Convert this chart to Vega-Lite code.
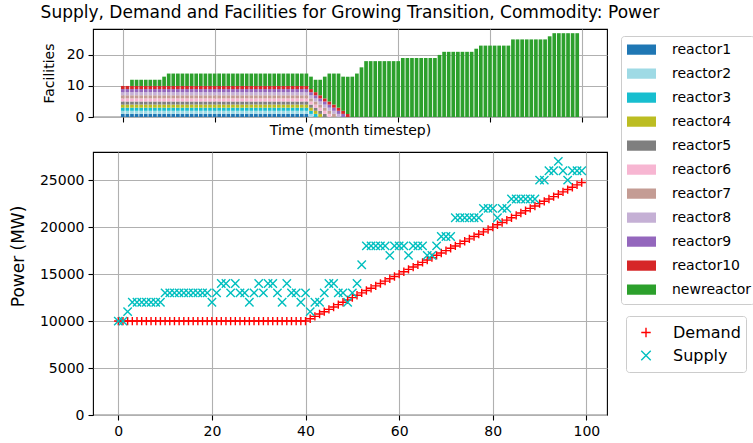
{
"$schema":"https://vega.github.io/schema/vega-lite/v6.json",
"background":"white",
"padding":{"left":8,"top":4,"right":0,"bottom":0},
"title":{"text":"Supply, Demand and Facilities for Growing Transition, Commodity: Power","fontSize":17,"font":"DejaVu Sans","fontWeight":"normal","color":"black","offset":6,"frame":"group","anchor":"middle"},
"config":{
"font":"DejaVu Sans",
"view":{"stroke":"black","strokeWidth":1.1},
"axis":{"domain":false,"grid":true,"gridColor":"#b0b0b0","gridWidth":1.1,"gridOpacity":1,"tickColor":"black","tickSize":5,"tickWidth":1.1,"labelFontSize":14,"labelColor":"black","labelPadding":4,"titleFontWeight":"normal","titleColor":"black","labelFont":"DejaVu Sans","titleFont":"DejaVu Sans"},
"legend":{"labelFont":"DejaVu Sans","labelColor":"black"}
},
"datasets":{
"ord":[{"s":"reactor1","k":1},{"s":"reactor2","k":2},{"s":"reactor3","k":3},{"s":"reactor4","k":4},{"s":"reactor5","k":5},{"s":"reactor6","k":6},{"s":"reactor7","k":7},{"s":"reactor8","k":8},{"s":"reactor9","k":9},{"s":"reactor10","k":10},{"s":"newreactor","k":11}],
"fac":[
{"t":0,"s":"reactor1","n":1},{"t":1,"s":"reactor1","n":1},{"t":2,"s":"reactor1","n":1},{"t":3,"s":"reactor1","n":1},{"t":4,"s":"reactor1","n":1},{"t":5,"s":"reactor1","n":1},{"t":6,"s":"reactor1","n":1},{"t":7,"s":"reactor1","n":1},{"t":8,"s":"reactor1","n":1},{"t":9,"s":"reactor1","n":1},{"t":10,"s":"reactor1","n":1},{"t":11,"s":"reactor1","n":1},{"t":12,"s":"reactor1","n":1},{"t":13,"s":"reactor1","n":1},{"t":14,"s":"reactor1","n":1},{"t":15,"s":"reactor1","n":1},{"t":16,"s":"reactor1","n":1},{"t":17,"s":"reactor1","n":1},{"t":18,"s":"reactor1","n":1},{"t":19,"s":"reactor1","n":1},{"t":20,"s":"reactor1","n":1},{"t":21,"s":"reactor1","n":1},{"t":22,"s":"reactor1","n":1},{"t":23,"s":"reactor1","n":1},{"t":24,"s":"reactor1","n":1},{"t":25,"s":"reactor1","n":1},{"t":26,"s":"reactor1","n":1},{"t":27,"s":"reactor1","n":1},{"t":28,"s":"reactor1","n":1},{"t":29,"s":"reactor1","n":1},{"t":30,"s":"reactor1","n":1},{"t":31,"s":"reactor1","n":1},{"t":32,"s":"reactor1","n":1},{"t":33,"s":"reactor1","n":1},{"t":34,"s":"reactor1","n":1},{"t":35,"s":"reactor1","n":1},{"t":36,"s":"reactor1","n":1},{"t":37,"s":"reactor1","n":1},{"t":38,"s":"reactor1","n":1},{"t":39,"s":"reactor1","n":1},{"t":40,"s":"reactor1","n":1},
{"t":0,"s":"reactor2","n":1},{"t":1,"s":"reactor2","n":1},{"t":2,"s":"reactor2","n":1},{"t":3,"s":"reactor2","n":1},{"t":4,"s":"reactor2","n":1},{"t":5,"s":"reactor2","n":1},{"t":6,"s":"reactor2","n":1},{"t":7,"s":"reactor2","n":1},{"t":8,"s":"reactor2","n":1},{"t":9,"s":"reactor2","n":1},{"t":10,"s":"reactor2","n":1},{"t":11,"s":"reactor2","n":1},{"t":12,"s":"reactor2","n":1},{"t":13,"s":"reactor2","n":1},{"t":14,"s":"reactor2","n":1},{"t":15,"s":"reactor2","n":1},{"t":16,"s":"reactor2","n":1},{"t":17,"s":"reactor2","n":1},{"t":18,"s":"reactor2","n":1},{"t":19,"s":"reactor2","n":1},{"t":20,"s":"reactor2","n":1},{"t":21,"s":"reactor2","n":1},{"t":22,"s":"reactor2","n":1},{"t":23,"s":"reactor2","n":1},{"t":24,"s":"reactor2","n":1},{"t":25,"s":"reactor2","n":1},{"t":26,"s":"reactor2","n":1},{"t":27,"s":"reactor2","n":1},{"t":28,"s":"reactor2","n":1},{"t":29,"s":"reactor2","n":1},{"t":30,"s":"reactor2","n":1},{"t":31,"s":"reactor2","n":1},{"t":32,"s":"reactor2","n":1},{"t":33,"s":"reactor2","n":1},{"t":34,"s":"reactor2","n":1},{"t":35,"s":"reactor2","n":1},{"t":36,"s":"reactor2","n":1},{"t":37,"s":"reactor2","n":1},{"t":38,"s":"reactor2","n":1},{"t":39,"s":"reactor2","n":1},{"t":40,"s":"reactor2","n":1},{"t":41,"s":"reactor2","n":1},
{"t":0,"s":"reactor3","n":1},{"t":1,"s":"reactor3","n":1},{"t":2,"s":"reactor3","n":1},{"t":3,"s":"reactor3","n":1},{"t":4,"s":"reactor3","n":1},{"t":5,"s":"reactor3","n":1},{"t":6,"s":"reactor3","n":1},{"t":7,"s":"reactor3","n":1},{"t":8,"s":"reactor3","n":1},{"t":9,"s":"reactor3","n":1},{"t":10,"s":"reactor3","n":1},{"t":11,"s":"reactor3","n":1},{"t":12,"s":"reactor3","n":1},{"t":13,"s":"reactor3","n":1},{"t":14,"s":"reactor3","n":1},{"t":15,"s":"reactor3","n":1},{"t":16,"s":"reactor3","n":1},{"t":17,"s":"reactor3","n":1},{"t":18,"s":"reactor3","n":1},{"t":19,"s":"reactor3","n":1},{"t":20,"s":"reactor3","n":1},{"t":21,"s":"reactor3","n":1},{"t":22,"s":"reactor3","n":1},{"t":23,"s":"reactor3","n":1},{"t":24,"s":"reactor3","n":1},{"t":25,"s":"reactor3","n":1},{"t":26,"s":"reactor3","n":1},{"t":27,"s":"reactor3","n":1},{"t":28,"s":"reactor3","n":1},{"t":29,"s":"reactor3","n":1},{"t":30,"s":"reactor3","n":1},{"t":31,"s":"reactor3","n":1},{"t":32,"s":"reactor3","n":1},{"t":33,"s":"reactor3","n":1},{"t":34,"s":"reactor3","n":1},{"t":35,"s":"reactor3","n":1},{"t":36,"s":"reactor3","n":1},{"t":37,"s":"reactor3","n":1},{"t":38,"s":"reactor3","n":1},{"t":39,"s":"reactor3","n":1},{"t":40,"s":"reactor3","n":1},{"t":41,"s":"reactor3","n":1},{"t":42,"s":"reactor3","n":1},
{"t":0,"s":"reactor4","n":1},{"t":1,"s":"reactor4","n":1},{"t":2,"s":"reactor4","n":1},{"t":3,"s":"reactor4","n":1},{"t":4,"s":"reactor4","n":1},{"t":5,"s":"reactor4","n":1},{"t":6,"s":"reactor4","n":1},{"t":7,"s":"reactor4","n":1},{"t":8,"s":"reactor4","n":1},{"t":9,"s":"reactor4","n":1},{"t":10,"s":"reactor4","n":1},{"t":11,"s":"reactor4","n":1},{"t":12,"s":"reactor4","n":1},{"t":13,"s":"reactor4","n":1},{"t":14,"s":"reactor4","n":1},{"t":15,"s":"reactor4","n":1},{"t":16,"s":"reactor4","n":1},{"t":17,"s":"reactor4","n":1},{"t":18,"s":"reactor4","n":1},{"t":19,"s":"reactor4","n":1},{"t":20,"s":"reactor4","n":1},{"t":21,"s":"reactor4","n":1},{"t":22,"s":"reactor4","n":1},{"t":23,"s":"reactor4","n":1},{"t":24,"s":"reactor4","n":1},{"t":25,"s":"reactor4","n":1},{"t":26,"s":"reactor4","n":1},{"t":27,"s":"reactor4","n":1},{"t":28,"s":"reactor4","n":1},{"t":29,"s":"reactor4","n":1},{"t":30,"s":"reactor4","n":1},{"t":31,"s":"reactor4","n":1},{"t":32,"s":"reactor4","n":1},{"t":33,"s":"reactor4","n":1},{"t":34,"s":"reactor4","n":1},{"t":35,"s":"reactor4","n":1},{"t":36,"s":"reactor4","n":1},{"t":37,"s":"reactor4","n":1},{"t":38,"s":"reactor4","n":1},{"t":39,"s":"reactor4","n":1},{"t":40,"s":"reactor4","n":1},{"t":41,"s":"reactor4","n":1},{"t":42,"s":"reactor4","n":1},{"t":43,"s":"reactor4","n":1},
{"t":0,"s":"reactor5","n":1},{"t":1,"s":"reactor5","n":1},{"t":2,"s":"reactor5","n":1},{"t":3,"s":"reactor5","n":1},{"t":4,"s":"reactor5","n":1},{"t":5,"s":"reactor5","n":1},{"t":6,"s":"reactor5","n":1},{"t":7,"s":"reactor5","n":1},{"t":8,"s":"reactor5","n":1},{"t":9,"s":"reactor5","n":1},{"t":10,"s":"reactor5","n":1},{"t":11,"s":"reactor5","n":1},{"t":12,"s":"reactor5","n":1},{"t":13,"s":"reactor5","n":1},{"t":14,"s":"reactor5","n":1},{"t":15,"s":"reactor5","n":1},{"t":16,"s":"reactor5","n":1},{"t":17,"s":"reactor5","n":1},{"t":18,"s":"reactor5","n":1},{"t":19,"s":"reactor5","n":1},{"t":20,"s":"reactor5","n":1},{"t":21,"s":"reactor5","n":1},{"t":22,"s":"reactor5","n":1},{"t":23,"s":"reactor5","n":1},{"t":24,"s":"reactor5","n":1},{"t":25,"s":"reactor5","n":1},{"t":26,"s":"reactor5","n":1},{"t":27,"s":"reactor5","n":1},{"t":28,"s":"reactor5","n":1},{"t":29,"s":"reactor5","n":1},{"t":30,"s":"reactor5","n":1},{"t":31,"s":"reactor5","n":1},{"t":32,"s":"reactor5","n":1},{"t":33,"s":"reactor5","n":1},{"t":34,"s":"reactor5","n":1},{"t":35,"s":"reactor5","n":1},{"t":36,"s":"reactor5","n":1},{"t":37,"s":"reactor5","n":1},{"t":38,"s":"reactor5","n":1},{"t":39,"s":"reactor5","n":1},{"t":40,"s":"reactor5","n":1},{"t":41,"s":"reactor5","n":1},{"t":42,"s":"reactor5","n":1},{"t":43,"s":"reactor5","n":1},{"t":44,"s":"reactor5","n":1},
{"t":0,"s":"reactor6","n":1},{"t":1,"s":"reactor6","n":1},{"t":2,"s":"reactor6","n":1},{"t":3,"s":"reactor6","n":1},{"t":4,"s":"reactor6","n":1},{"t":5,"s":"reactor6","n":1},{"t":6,"s":"reactor6","n":1},{"t":7,"s":"reactor6","n":1},{"t":8,"s":"reactor6","n":1},{"t":9,"s":"reactor6","n":1},{"t":10,"s":"reactor6","n":1},{"t":11,"s":"reactor6","n":1},{"t":12,"s":"reactor6","n":1},{"t":13,"s":"reactor6","n":1},{"t":14,"s":"reactor6","n":1},{"t":15,"s":"reactor6","n":1},{"t":16,"s":"reactor6","n":1},{"t":17,"s":"reactor6","n":1},{"t":18,"s":"reactor6","n":1},{"t":19,"s":"reactor6","n":1},{"t":20,"s":"reactor6","n":1},{"t":21,"s":"reactor6","n":1},{"t":22,"s":"reactor6","n":1},{"t":23,"s":"reactor6","n":1},{"t":24,"s":"reactor6","n":1},{"t":25,"s":"reactor6","n":1},{"t":26,"s":"reactor6","n":1},{"t":27,"s":"reactor6","n":1},{"t":28,"s":"reactor6","n":1},{"t":29,"s":"reactor6","n":1},{"t":30,"s":"reactor6","n":1},{"t":31,"s":"reactor6","n":1},{"t":32,"s":"reactor6","n":1},{"t":33,"s":"reactor6","n":1},{"t":34,"s":"reactor6","n":1},{"t":35,"s":"reactor6","n":1},{"t":36,"s":"reactor6","n":1},{"t":37,"s":"reactor6","n":1},{"t":38,"s":"reactor6","n":1},{"t":39,"s":"reactor6","n":1},{"t":40,"s":"reactor6","n":1},{"t":41,"s":"reactor6","n":1},{"t":42,"s":"reactor6","n":1},{"t":43,"s":"reactor6","n":1},{"t":44,"s":"reactor6","n":1},{"t":45,"s":"reactor6","n":1},
{"t":0,"s":"reactor7","n":1},{"t":1,"s":"reactor7","n":1},{"t":2,"s":"reactor7","n":1},{"t":3,"s":"reactor7","n":1},{"t":4,"s":"reactor7","n":1},{"t":5,"s":"reactor7","n":1},{"t":6,"s":"reactor7","n":1},{"t":7,"s":"reactor7","n":1},{"t":8,"s":"reactor7","n":1},{"t":9,"s":"reactor7","n":1},{"t":10,"s":"reactor7","n":1},{"t":11,"s":"reactor7","n":1},{"t":12,"s":"reactor7","n":1},{"t":13,"s":"reactor7","n":1},{"t":14,"s":"reactor7","n":1},{"t":15,"s":"reactor7","n":1},{"t":16,"s":"reactor7","n":1},{"t":17,"s":"reactor7","n":1},{"t":18,"s":"reactor7","n":1},{"t":19,"s":"reactor7","n":1},{"t":20,"s":"reactor7","n":1},{"t":21,"s":"reactor7","n":1},{"t":22,"s":"reactor7","n":1},{"t":23,"s":"reactor7","n":1},{"t":24,"s":"reactor7","n":1},{"t":25,"s":"reactor7","n":1},{"t":26,"s":"reactor7","n":1},{"t":27,"s":"reactor7","n":1},{"t":28,"s":"reactor7","n":1},{"t":29,"s":"reactor7","n":1},{"t":30,"s":"reactor7","n":1},{"t":31,"s":"reactor7","n":1},{"t":32,"s":"reactor7","n":1},{"t":33,"s":"reactor7","n":1},{"t":34,"s":"reactor7","n":1},{"t":35,"s":"reactor7","n":1},{"t":36,"s":"reactor7","n":1},{"t":37,"s":"reactor7","n":1},{"t":38,"s":"reactor7","n":1},{"t":39,"s":"reactor7","n":1},{"t":40,"s":"reactor7","n":1},{"t":41,"s":"reactor7","n":1},{"t":42,"s":"reactor7","n":1},{"t":43,"s":"reactor7","n":1},{"t":44,"s":"reactor7","n":1},{"t":45,"s":"reactor7","n":1},{"t":46,"s":"reactor7","n":1},
{"t":0,"s":"reactor8","n":1},{"t":1,"s":"reactor8","n":1},{"t":2,"s":"reactor8","n":1},{"t":3,"s":"reactor8","n":1},{"t":4,"s":"reactor8","n":1},{"t":5,"s":"reactor8","n":1},{"t":6,"s":"reactor8","n":1},{"t":7,"s":"reactor8","n":1},{"t":8,"s":"reactor8","n":1},{"t":9,"s":"reactor8","n":1},{"t":10,"s":"reactor8","n":1},{"t":11,"s":"reactor8","n":1},{"t":12,"s":"reactor8","n":1},{"t":13,"s":"reactor8","n":1},{"t":14,"s":"reactor8","n":1},{"t":15,"s":"reactor8","n":1},{"t":16,"s":"reactor8","n":1},{"t":17,"s":"reactor8","n":1},{"t":18,"s":"reactor8","n":1},{"t":19,"s":"reactor8","n":1},{"t":20,"s":"reactor8","n":1},{"t":21,"s":"reactor8","n":1},{"t":22,"s":"reactor8","n":1},{"t":23,"s":"reactor8","n":1},{"t":24,"s":"reactor8","n":1},{"t":25,"s":"reactor8","n":1},{"t":26,"s":"reactor8","n":1},{"t":27,"s":"reactor8","n":1},{"t":28,"s":"reactor8","n":1},{"t":29,"s":"reactor8","n":1},{"t":30,"s":"reactor8","n":1},{"t":31,"s":"reactor8","n":1},{"t":32,"s":"reactor8","n":1},{"t":33,"s":"reactor8","n":1},{"t":34,"s":"reactor8","n":1},{"t":35,"s":"reactor8","n":1},{"t":36,"s":"reactor8","n":1},{"t":37,"s":"reactor8","n":1},{"t":38,"s":"reactor8","n":1},{"t":39,"s":"reactor8","n":1},{"t":40,"s":"reactor8","n":1},{"t":41,"s":"reactor8","n":1},{"t":42,"s":"reactor8","n":1},{"t":43,"s":"reactor8","n":1},{"t":44,"s":"reactor8","n":1},{"t":45,"s":"reactor8","n":1},{"t":46,"s":"reactor8","n":1},{"t":47,"s":"reactor8","n":1},
{"t":0,"s":"reactor9","n":1},{"t":1,"s":"reactor9","n":1},{"t":2,"s":"reactor9","n":1},{"t":3,"s":"reactor9","n":1},{"t":4,"s":"reactor9","n":1},{"t":5,"s":"reactor9","n":1},{"t":6,"s":"reactor9","n":1},{"t":7,"s":"reactor9","n":1},{"t":8,"s":"reactor9","n":1},{"t":9,"s":"reactor9","n":1},{"t":10,"s":"reactor9","n":1},{"t":11,"s":"reactor9","n":1},{"t":12,"s":"reactor9","n":1},{"t":13,"s":"reactor9","n":1},{"t":14,"s":"reactor9","n":1},{"t":15,"s":"reactor9","n":1},{"t":16,"s":"reactor9","n":1},{"t":17,"s":"reactor9","n":1},{"t":18,"s":"reactor9","n":1},{"t":19,"s":"reactor9","n":1},{"t":20,"s":"reactor9","n":1},{"t":21,"s":"reactor9","n":1},{"t":22,"s":"reactor9","n":1},{"t":23,"s":"reactor9","n":1},{"t":24,"s":"reactor9","n":1},{"t":25,"s":"reactor9","n":1},{"t":26,"s":"reactor9","n":1},{"t":27,"s":"reactor9","n":1},{"t":28,"s":"reactor9","n":1},{"t":29,"s":"reactor9","n":1},{"t":30,"s":"reactor9","n":1},{"t":31,"s":"reactor9","n":1},{"t":32,"s":"reactor9","n":1},{"t":33,"s":"reactor9","n":1},{"t":34,"s":"reactor9","n":1},{"t":35,"s":"reactor9","n":1},{"t":36,"s":"reactor9","n":1},{"t":37,"s":"reactor9","n":1},{"t":38,"s":"reactor9","n":1},{"t":39,"s":"reactor9","n":1},{"t":40,"s":"reactor9","n":1},{"t":41,"s":"reactor9","n":1},{"t":42,"s":"reactor9","n":1},{"t":43,"s":"reactor9","n":1},{"t":44,"s":"reactor9","n":1},{"t":45,"s":"reactor9","n":1},{"t":46,"s":"reactor9","n":1},{"t":47,"s":"reactor9","n":1},{"t":48,"s":"reactor9","n":1},
{"t":0,"s":"reactor10","n":1},{"t":1,"s":"reactor10","n":1},{"t":2,"s":"reactor10","n":1},{"t":3,"s":"reactor10","n":1},{"t":4,"s":"reactor10","n":1},{"t":5,"s":"reactor10","n":1},{"t":6,"s":"reactor10","n":1},{"t":7,"s":"reactor10","n":1},{"t":8,"s":"reactor10","n":1},{"t":9,"s":"reactor10","n":1},{"t":10,"s":"reactor10","n":1},{"t":11,"s":"reactor10","n":1},{"t":12,"s":"reactor10","n":1},{"t":13,"s":"reactor10","n":1},{"t":14,"s":"reactor10","n":1},{"t":15,"s":"reactor10","n":1},{"t":16,"s":"reactor10","n":1},{"t":17,"s":"reactor10","n":1},{"t":18,"s":"reactor10","n":1},{"t":19,"s":"reactor10","n":1},{"t":20,"s":"reactor10","n":1},{"t":21,"s":"reactor10","n":1},{"t":22,"s":"reactor10","n":1},{"t":23,"s":"reactor10","n":1},{"t":24,"s":"reactor10","n":1},{"t":25,"s":"reactor10","n":1},{"t":26,"s":"reactor10","n":1},{"t":27,"s":"reactor10","n":1},{"t":28,"s":"reactor10","n":1},{"t":29,"s":"reactor10","n":1},{"t":30,"s":"reactor10","n":1},{"t":31,"s":"reactor10","n":1},{"t":32,"s":"reactor10","n":1},{"t":33,"s":"reactor10","n":1},{"t":34,"s":"reactor10","n":1},{"t":35,"s":"reactor10","n":1},{"t":36,"s":"reactor10","n":1},{"t":37,"s":"reactor10","n":1},{"t":38,"s":"reactor10","n":1},{"t":39,"s":"reactor10","n":1},{"t":40,"s":"reactor10","n":1},{"t":41,"s":"reactor10","n":1},{"t":42,"s":"reactor10","n":1},{"t":43,"s":"reactor10","n":1},{"t":44,"s":"reactor10","n":1},{"t":45,"s":"reactor10","n":1},{"t":46,"s":"reactor10","n":1},{"t":47,"s":"reactor10","n":1},{"t":48,"s":"reactor10","n":1},{"t":49,"s":"reactor10","n":1},
{"t":2,"s":"newreactor","n":2},{"t":3,"s":"newreactor","n":2},{"t":4,"s":"newreactor","n":2},{"t":5,"s":"newreactor","n":2},{"t":6,"s":"newreactor","n":2},{"t":7,"s":"newreactor","n":2},{"t":8,"s":"newreactor","n":2},{"t":9,"s":"newreactor","n":3},{"t":10,"s":"newreactor","n":4},{"t":11,"s":"newreactor","n":4},{"t":12,"s":"newreactor","n":4},{"t":13,"s":"newreactor","n":4},{"t":14,"s":"newreactor","n":4},{"t":15,"s":"newreactor","n":4},{"t":16,"s":"newreactor","n":4},{"t":17,"s":"newreactor","n":4},{"t":18,"s":"newreactor","n":4},{"t":19,"s":"newreactor","n":4},{"t":20,"s":"newreactor","n":4},{"t":21,"s":"newreactor","n":4},{"t":22,"s":"newreactor","n":4},{"t":23,"s":"newreactor","n":4},{"t":24,"s":"newreactor","n":4},{"t":25,"s":"newreactor","n":4},{"t":26,"s":"newreactor","n":4},{"t":27,"s":"newreactor","n":4},{"t":28,"s":"newreactor","n":4},{"t":29,"s":"newreactor","n":4},{"t":30,"s":"newreactor","n":4},{"t":31,"s":"newreactor","n":4},{"t":32,"s":"newreactor","n":4},{"t":33,"s":"newreactor","n":4},{"t":34,"s":"newreactor","n":4},{"t":35,"s":"newreactor","n":4},{"t":36,"s":"newreactor","n":4},{"t":37,"s":"newreactor","n":4},{"t":38,"s":"newreactor","n":4},{"t":39,"s":"newreactor","n":4},{"t":40,"s":"newreactor","n":4},{"t":41,"s":"newreactor","n":4},{"t":42,"s":"newreactor","n":4},{"t":43,"s":"newreactor","n":5},{"t":44,"s":"newreactor","n":7},{"t":45,"s":"newreactor","n":9},{"t":46,"s":"newreactor","n":10},{"t":47,"s":"newreactor","n":11},{"t":48,"s":"newreactor","n":11},{"t":49,"s":"newreactor","n":12},{"t":50,"s":"newreactor","n":13},{"t":51,"s":"newreactor","n":14},{"t":52,"s":"newreactor","n":16},{"t":53,"s":"newreactor","n":18},{"t":54,"s":"newreactor","n":18},{"t":55,"s":"newreactor","n":18},{"t":56,"s":"newreactor","n":18},{"t":57,"s":"newreactor","n":18},{"t":58,"s":"newreactor","n":18},{"t":59,"s":"newreactor","n":18},{"t":60,"s":"newreactor","n":18},{"t":61,"s":"newreactor","n":19},{"t":62,"s":"newreactor","n":19},{"t":63,"s":"newreactor","n":19},{"t":64,"s":"newreactor","n":19},{"t":65,"s":"newreactor","n":19},{"t":66,"s":"newreactor","n":19},{"t":67,"s":"newreactor","n":19},{"t":68,"s":"newreactor","n":19},{"t":69,"s":"newreactor","n":20},{"t":70,"s":"newreactor","n":21},{"t":71,"s":"newreactor","n":21},{"t":72,"s":"newreactor","n":21},{"t":73,"s":"newreactor","n":21},{"t":74,"s":"newreactor","n":21},{"t":75,"s":"newreactor","n":21},{"t":76,"s":"newreactor","n":21},{"t":77,"s":"newreactor","n":22},{"t":78,"s":"newreactor","n":23},{"t":79,"s":"newreactor","n":23},{"t":80,"s":"newreactor","n":23},{"t":81,"s":"newreactor","n":23},{"t":82,"s":"newreactor","n":23},{"t":83,"s":"newreactor","n":23},{"t":84,"s":"newreactor","n":23},{"t":85,"s":"newreactor","n":25},{"t":86,"s":"newreactor","n":25},{"t":87,"s":"newreactor","n":25},{"t":88,"s":"newreactor","n":25},{"t":89,"s":"newreactor","n":25},{"t":90,"s":"newreactor","n":25},{"t":91,"s":"newreactor","n":25},{"t":92,"s":"newreactor","n":25},{"t":93,"s":"newreactor","n":26},{"t":94,"s":"newreactor","n":27},{"t":95,"s":"newreactor","n":27},{"t":96,"s":"newreactor","n":27},{"t":97,"s":"newreactor","n":27},{"t":98,"s":"newreactor","n":27},{"t":99,"s":"newreactor","n":27}
],
"pw":[
{"t":0,"s":"Demand","p":10000},{"t":1,"s":"Demand","p":10000},{"t":2,"s":"Demand","p":10000},{"t":3,"s":"Demand","p":10000},{"t":4,"s":"Demand","p":10000},{"t":5,"s":"Demand","p":10000},{"t":6,"s":"Demand","p":10000},{"t":7,"s":"Demand","p":10000},{"t":8,"s":"Demand","p":10000},{"t":9,"s":"Demand","p":10000},{"t":10,"s":"Demand","p":10000},{"t":11,"s":"Demand","p":10000},{"t":12,"s":"Demand","p":10000},{"t":13,"s":"Demand","p":10000},{"t":14,"s":"Demand","p":10000},{"t":15,"s":"Demand","p":10000},{"t":16,"s":"Demand","p":10000},{"t":17,"s":"Demand","p":10000},{"t":18,"s":"Demand","p":10000},{"t":19,"s":"Demand","p":10000},{"t":20,"s":"Demand","p":10000},{"t":21,"s":"Demand","p":10000},{"t":22,"s":"Demand","p":10000},{"t":23,"s":"Demand","p":10000},{"t":24,"s":"Demand","p":10000},{"t":25,"s":"Demand","p":10000},{"t":26,"s":"Demand","p":10000},{"t":27,"s":"Demand","p":10000},{"t":28,"s":"Demand","p":10000},{"t":29,"s":"Demand","p":10000},{"t":30,"s":"Demand","p":10000},{"t":31,"s":"Demand","p":10000},{"t":32,"s":"Demand","p":10000},{"t":33,"s":"Demand","p":10000},{"t":34,"s":"Demand","p":10000},{"t":35,"s":"Demand","p":10000},{"t":36,"s":"Demand","p":10000},{"t":37,"s":"Demand","p":10000},{"t":38,"s":"Demand","p":10000},{"t":39,"s":"Demand","p":10000},{"t":40,"s":"Demand","p":10000},{"t":41,"s":"Demand","p":10250},{"t":42,"s":"Demand","p":10500},{"t":43,"s":"Demand","p":10750},{"t":44,"s":"Demand","p":11000},{"t":45,"s":"Demand","p":11250},{"t":46,"s":"Demand","p":11500},{"t":47,"s":"Demand","p":11750},{"t":48,"s":"Demand","p":12000},{"t":49,"s":"Demand","p":12250},{"t":50,"s":"Demand","p":12500},{"t":51,"s":"Demand","p":12750},{"t":52,"s":"Demand","p":13000},{"t":53,"s":"Demand","p":13250},{"t":54,"s":"Demand","p":13500},{"t":55,"s":"Demand","p":13750},{"t":56,"s":"Demand","p":14000},{"t":57,"s":"Demand","p":14250},{"t":58,"s":"Demand","p":14500},{"t":59,"s":"Demand","p":14750},{"t":60,"s":"Demand","p":15000},{"t":61,"s":"Demand","p":15250},{"t":62,"s":"Demand","p":15500},{"t":63,"s":"Demand","p":15750},{"t":64,"s":"Demand","p":16000},{"t":65,"s":"Demand","p":16250},{"t":66,"s":"Demand","p":16500},{"t":67,"s":"Demand","p":16750},{"t":68,"s":"Demand","p":17000},{"t":69,"s":"Demand","p":17250},{"t":70,"s":"Demand","p":17500},{"t":71,"s":"Demand","p":17750},{"t":72,"s":"Demand","p":18000},{"t":73,"s":"Demand","p":18250},{"t":74,"s":"Demand","p":18500},{"t":75,"s":"Demand","p":18750},{"t":76,"s":"Demand","p":19000},{"t":77,"s":"Demand","p":19250},{"t":78,"s":"Demand","p":19500},{"t":79,"s":"Demand","p":19750},{"t":80,"s":"Demand","p":20000},{"t":81,"s":"Demand","p":20250},{"t":82,"s":"Demand","p":20500},{"t":83,"s":"Demand","p":20750},{"t":84,"s":"Demand","p":21000},{"t":85,"s":"Demand","p":21250},{"t":86,"s":"Demand","p":21500},{"t":87,"s":"Demand","p":21750},{"t":88,"s":"Demand","p":22000},{"t":89,"s":"Demand","p":22250},{"t":90,"s":"Demand","p":22500},{"t":91,"s":"Demand","p":22750},{"t":92,"s":"Demand","p":23000},{"t":93,"s":"Demand","p":23250},{"t":94,"s":"Demand","p":23500},{"t":95,"s":"Demand","p":23750},{"t":96,"s":"Demand","p":24000},{"t":97,"s":"Demand","p":24250},{"t":98,"s":"Demand","p":24500},{"t":99,"s":"Demand","p":24750},
{"t":0,"s":"Supply","p":10000},{"t":1,"s":"Supply","p":10000},{"t":2,"s":"Supply","p":11000},{"t":3,"s":"Supply","p":12000},{"t":4,"s":"Supply","p":12000},{"t":5,"s":"Supply","p":12000},{"t":6,"s":"Supply","p":12000},{"t":7,"s":"Supply","p":12000},{"t":8,"s":"Supply","p":12000},{"t":9,"s":"Supply","p":12000},{"t":10,"s":"Supply","p":13000},{"t":11,"s":"Supply","p":13000},{"t":12,"s":"Supply","p":13000},{"t":13,"s":"Supply","p":13000},{"t":14,"s":"Supply","p":13000},{"t":15,"s":"Supply","p":13000},{"t":16,"s":"Supply","p":13000},{"t":17,"s":"Supply","p":13000},{"t":18,"s":"Supply","p":13000},{"t":19,"s":"Supply","p":13000},{"t":20,"s":"Supply","p":12000},{"t":21,"s":"Supply","p":13000},{"t":22,"s":"Supply","p":14000},{"t":23,"s":"Supply","p":14000},{"t":24,"s":"Supply","p":13000},{"t":25,"s":"Supply","p":14000},{"t":26,"s":"Supply","p":13000},{"t":27,"s":"Supply","p":13000},{"t":28,"s":"Supply","p":12000},{"t":29,"s":"Supply","p":13000},{"t":30,"s":"Supply","p":14000},{"t":31,"s":"Supply","p":13000},{"t":32,"s":"Supply","p":14000},{"t":33,"s":"Supply","p":14000},{"t":34,"s":"Supply","p":13000},{"t":35,"s":"Supply","p":12000},{"t":36,"s":"Supply","p":14000},{"t":37,"s":"Supply","p":13000},{"t":38,"s":"Supply","p":13000},{"t":39,"s":"Supply","p":12000},{"t":40,"s":"Supply","p":13000},{"t":41,"s":"Supply","p":11000},{"t":42,"s":"Supply","p":12000},{"t":43,"s":"Supply","p":12000},{"t":44,"s":"Supply","p":13000},{"t":45,"s":"Supply","p":14000},{"t":46,"s":"Supply","p":14000},{"t":47,"s":"Supply","p":13000},{"t":48,"s":"Supply","p":13000},{"t":49,"s":"Supply","p":12000},{"t":50,"s":"Supply","p":13000},{"t":51,"s":"Supply","p":14000},{"t":52,"s":"Supply","p":16000},{"t":53,"s":"Supply","p":18000},{"t":54,"s":"Supply","p":18000},{"t":55,"s":"Supply","p":18000},{"t":56,"s":"Supply","p":18000},{"t":57,"s":"Supply","p":18000},{"t":58,"s":"Supply","p":17000},{"t":59,"s":"Supply","p":18000},{"t":60,"s":"Supply","p":18000},{"t":61,"s":"Supply","p":18000},{"t":62,"s":"Supply","p":17000},{"t":63,"s":"Supply","p":18000},{"t":64,"s":"Supply","p":18000},{"t":65,"s":"Supply","p":18000},{"t":66,"s":"Supply","p":17000},{"t":67,"s":"Supply","p":17000},{"t":68,"s":"Supply","p":18000},{"t":69,"s":"Supply","p":19000},{"t":70,"s":"Supply","p":19000},{"t":71,"s":"Supply","p":19000},{"t":72,"s":"Supply","p":21000},{"t":73,"s":"Supply","p":21000},{"t":74,"s":"Supply","p":21000},{"t":75,"s":"Supply","p":21000},{"t":76,"s":"Supply","p":21000},{"t":77,"s":"Supply","p":21000},{"t":78,"s":"Supply","p":22000},{"t":79,"s":"Supply","p":22000},{"t":80,"s":"Supply","p":22000},{"t":81,"s":"Supply","p":21000},{"t":82,"s":"Supply","p":22000},{"t":83,"s":"Supply","p":22000},{"t":84,"s":"Supply","p":23000},{"t":85,"s":"Supply","p":23000},{"t":86,"s":"Supply","p":23000},{"t":87,"s":"Supply","p":23000},{"t":88,"s":"Supply","p":23000},{"t":89,"s":"Supply","p":23000},{"t":90,"s":"Supply","p":25000},{"t":91,"s":"Supply","p":25000},{"t":92,"s":"Supply","p":26000},{"t":93,"s":"Supply","p":26000},{"t":94,"s":"Supply","p":27000},{"t":95,"s":"Supply","p":26000},{"t":96,"s":"Supply","p":25000},{"t":97,"s":"Supply","p":26000},{"t":98,"s":"Supply","p":26000},{"t":99,"s":"Supply","p":26000}
]
},
"vconcat":[
{
"width":514,"height":88,
"data":{"name":"fac"},
"transform":[{"lookup":"s","from":{"data":{"name":"ord"},"key":"s","fields":["k"]}}],
"mark":{"type":"bar","size":3.7},
"encoding":{
"x":{"field":"t","type":"quantitative","scale":{"domain":[-5.4,104.4],"nice":false,"zero":false},"axis":{"values":[0,20,40,60,80,100],"labels":false,"title":"Time (month timestep)","titleFontSize":14,"titlePadding":1}},
"y":{"field":"n","type":"quantitative","stack":"zero","scale":{"domain":[0,28.35],"nice":false},"axis":{"values":[0,10,20],"title":"Facilities","titleFontSize":14,"titlePadding":10}},
"color":{"field":"s","type":"nominal","scale":{"domain":["reactor1","reactor2","reactor3","reactor4","reactor5","reactor6","reactor7","reactor8","reactor9","reactor10","newreactor"],"range":["#1f77b4","#9edae5","#17becf","#bcbd22","#7f7f7f","#f7b6d2","#c49c94","#c5b0d5","#9467bd","#d62728","#2ca02c"]},"legend":{"title":null,"orient":"none","legendX":528,"legendY":7,"padding":2,"strokeColor":"#cccccc","fillColor":"white","cornerRadius":3,"labelFontSize":14,"symbolType":"M-1,-0.35L1,-0.35L1,0.35L-1,0.35Z","symbolSize":841,"symbolStrokeWidth":0,"symbolOffset":4,"labelOffset":16,"clipHeight":23.3,"rowPadding":0}},
"order":{"field":"k","type":"quantitative","sort":"ascending"}
}
},
{
"width":514,"height":263,
"data":{"name":"pw"},
"mark":{"type":"point","filled":false,"strokeWidth":1.4,"size":70,"opacity":1},
"encoding":{
"x":{"field":"t","type":"quantitative","scale":{"domain":[-5.4,104.4],"nice":false,"zero":false},"axis":{"values":[0,20,40,60,80,100],"title":null}},
"y":{"field":"p","type":"quantitative","scale":{"domain":[0,28000],"nice":false},"axis":{"values":[0,5000,10000,15000,20000,25000],"format":"d","title":"Power (MW)","titleFontSize":17,"titlePadding":12,"titleY":104}},
"color":{"field":"s","type":"nominal","scale":{"domain":["Demand","Supply"],"range":["#ff0000","#00bfbf"]},"legend":{"title":null,"orient":"none","legendX":533,"legendY":164,"padding":5,"strokeColor":"#cccccc","fillColor":"white","cornerRadius":3,"labelFontSize":16,"symbolSize":90,"symbolStrokeWidth":1.4,"symbolOffset":7,"labelOffset":19,"clipHeight":23,"rowPadding":0}},
"shape":{"field":"s","type":"nominal","scale":{"domain":["Demand","Supply"],"range":["M-1,0L1,0M0,-1L0,1","M-1,-1L1,1M-1,1L1,-1"]}}
}
}
],
"spacing":35,
"bounds":"flush",
"resolve":{"scale":{"color":"independent","x":"independent","y":"independent","shape":"independent"},"legend":{"color":"independent","shape":"independent"}}
}
